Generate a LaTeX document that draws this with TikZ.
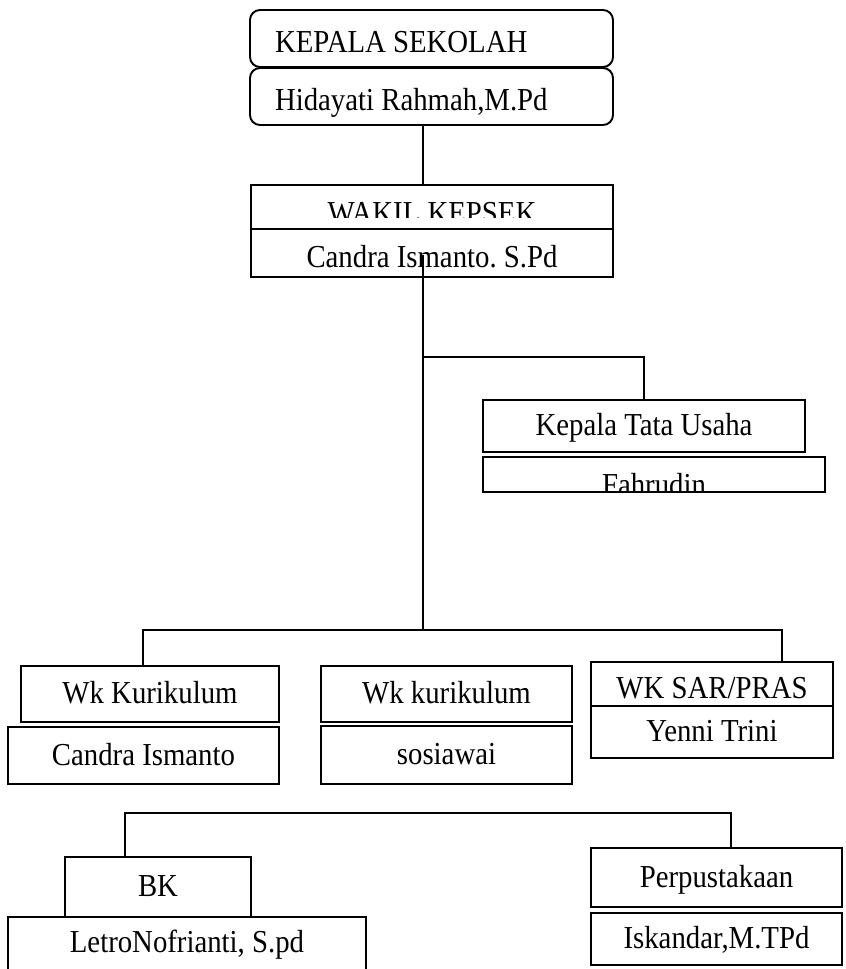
\documentclass[tikz,border=0pt]{standalone}
\usepackage{fontspec}
\setmainfont{Liberation Serif}[FakeStretch=0.9]
\frenchspacing

\begin{document}
\begin{tikzpicture}[x=0.02cm, y=-0.02cm,
    orgbox/.style={draw, line width=1.1pt, inner sep=0pt, outer sep=0pt,
        text height=10.9pt, text depth=0pt, font=\orgfont},
    plainbox/.style={},
    lowtext/.style={text height=16.4pt},
    topbox/.style={rounded corners=0.2cm, text width=6.26cm, inner xsep=0.5cm,
        align=left, execute at begin node={\spaceskip=0pt\xspaceskip=0pt}, lowtext},
    openbox/.style={draw=none},
    link/.style={line width=1pt}]
    % Define font and page size (reference pixels)
    \def\orgfont{\fontsize{18.2}{21}\selectfont}
    \useasboundingbox (0,0) rectangle (845,969);

    % Boxes: name / left / top / right / bottom / style / text
    \foreach \name/\xa/\ya/\xb/\yb/\opt/\txt in {
        kepsek/250/10/613/67/topbox/{KEPALA SEKOLAH},
        kepsekname/250/68/613/125/topbox/{Hidayati Rahmah,M.Pd},
        wakil/251/185/613/229/plainbox/{},
        wakilname/251/229/613/277/lowtext/{Candra Ismanto. S.Pd},
        ktu/483/400/805/452/plainbox/{Kepala Tata Usaha},
        ktuname/483/457/825/492/plainbox/{},
        wkkur/21/666/279/722/plainbox/{Wk Kurikulum},
        wkkurname/8/727/279/784/plainbox/{Candra Ismanto},
        wkkes/321/666/572/722/plainbox/{Wk kurikulum},
        wkkesname/321/726/572/784/plainbox/{sosiawai},
        wksar/591/662/833/706/lowtext/{WK SAR/PRAS},
        wksarname/591/706/833/758/plainbox/{Yenni Trini},
        bk/65/857/251/917/plainbox/{BK},
        bkname/8/917/366/969/openbox/{LetroNofrianti, S.pd},
        pustaka/591/848/842/907/plainbox/{Perpustakaan},
        pustakaname/591/913/842/965/plainbox/{Iskandar,M.TPd}
    }{
        \node[orgbox, \opt, minimum width={(\xb-\xa)*0.02cm},
            minimum height={(\yb-\ya)*0.02cm}]
            (\name) at ({(\xa+\xb)/2},{(\ya+\yb)/2}) {\txt};
    }
    % BK name box runs off the page, no bottom edge
    \draw[line width=1.1pt] (bkname.south west) |- (bkname.north east) -- (bkname.south east);

    % Cut-off labels
    \begin{scope}
        \path (wakil.south east) ++(0,-11) coordinate (wakilcut);
        \clip (wakil.north west) rectangle (wakilcut);
        \node[anchor=base, font=\orgfont] (wakiltxt) at (432,224) {WAKIL KEPSEK};
    \end{scope}
    \begin{scope}
        \clip (ktuname.north west) rectangle (ktuname.south east);
        \node[anchor=base, font=\orgfont] (ktunametxt) at (654,495) {Fahrudin};
    \end{scope}

    % Junctions
    \coordinate (trunktop) at (423,255);
    \coordinate (tubend) at (423,357);
    \coordinate (lvltwo) at (423,630);
    \coordinate (lvltwow) at (143,630);
    \coordinate (lvltwoe) at (782,630);
    \coordinate (lvlthreew) at (125,813);
    \coordinate (lvlthreee) at (731,813);

    % Connectors
    \draw[link] (kepsekname.south -| trunktop) -- (wakil.north -| trunktop);
    \draw[link] (trunktop) -- (lvltwo);
    \draw[link] (tubend) -| (ktu.north);
    \draw[link] (wkkur.north -| lvltwow) |- (lvltwoe) -- (wksar.north -| lvltwoe);
    \draw[link] (bk.north -| lvlthreew) |- (lvlthreee) -- (pustaka.north -| lvlthreee);

\end{tikzpicture}
\end{document}
